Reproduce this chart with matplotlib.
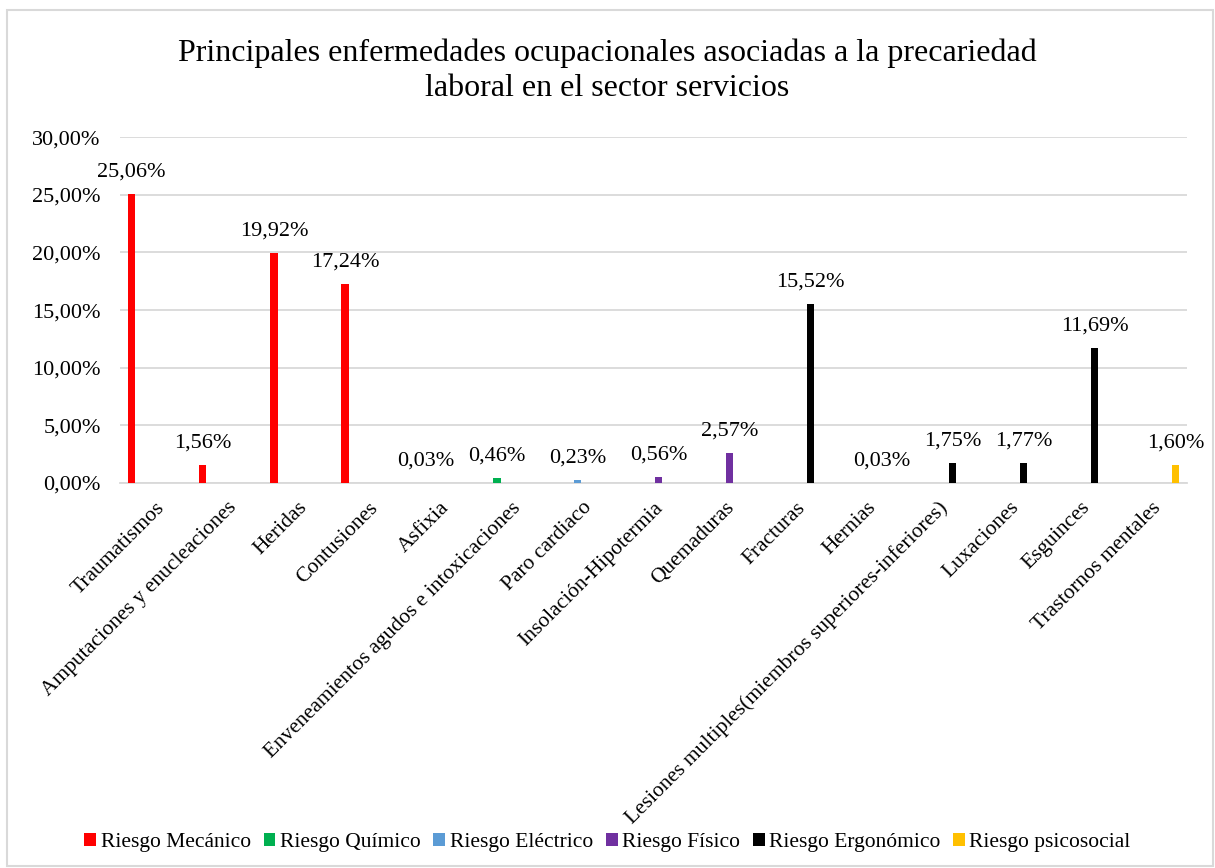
import matplotlib.pyplot as plt
import numpy as np
from matplotlib.patches import Rectangle
from matplotlib.ticker import FuncFormatter

plt.rcParams['font.family'] = ['Liberation Serif', 'DejaVu Serif']

categories = [
    "Traumatismos", "Amputaciones y enucleaciones", "Heridas", "Contusiones",
    "Asfixia", "Enveneamientos agudos e intoxicaciones", "Paro cardiaco",
    "Insolación-Hipotermia", "Quemaduras", "Fracturas", "Hernias",
    "Lesiones multiples(miembros superiores-inferiores)", "Luxaciones",
    "Esguinces", "Trastornos mentales",
]

series_names = ["Riesgo Mecánico", "Riesgo Químico", "Riesgo Eléctrico",
                "Riesgo Físico", "Riesgo Ergonómico", "Riesgo psicosocial"]
series_colors = ["#FF0000", "#00B050", "#5B9BD5", "#7030A0", "#000000", "#FFC000"]

mecanico = [25.06, 1.56, 19.92, 17.24, 0, 0, 0, 0, 0, 0, 0, 0, 0, 0, 0]
quimico = [0, 0, 0, 0, 0.03, 0.46, 0, 0, 0, 0, 0, 0, 0, 0, 0]
electrico = [0, 0, 0, 0, 0, 0, 0.23, 0, 0, 0, 0, 0, 0, 0, 0]
fisico = [0, 0, 0, 0, 0, 0, 0, 0.56, 2.57, 0, 0, 0, 0, 0, 0]
ergonomico = [0, 0, 0, 0, 0, 0, 0, 0, 0, 15.52, 0.03, 1.75, 1.77, 11.69, 0]
psicosocial = [0, 0, 0, 0, 0, 0, 0, 0, 0, 0, 0, 0, 0, 0, 1.60]

series_values = [mecanico, quimico, electrico, fisico, ergonomico, psicosocial]

fig = plt.figure(figsize=(12.15, 8.68), dpi=100)
ax = fig.add_axes([0.0988, 0.4435, 0.8782, 0.3985])

x = np.arange(len(categories))
step = 0.135
width = 0.103
for i, (name, vals, col) in enumerate(zip(series_names, series_values, series_colors)):
    vals = np.array(vals) / 100
    pos = x + (i - 2.5) * step
    ax.bar(pos, vals, width=width, color=col, label=name, zorder=3)
    for p, v in zip(pos, vals):
        if v > 0:
            ax.annotate(f"{v * 100:.2f}%".replace('.', ','), (p, v),
                        xytext=(0, 9), textcoords='offset points',
                        ha='center', va='bottom', fontsize=16)

ax.set_xlim(-0.5, len(categories) - 0.5)
ax.set_ylim(0, 0.30)
ax.set_yticks(np.arange(0, 0.301, 0.05))
ax.yaxis.set_major_formatter(FuncFormatter(lambda v, _: f"{v * 100:.2f}%".replace('.', ',')))
ax.grid(axis='y', color='#D9D9D9', linewidth=1.3, zorder=0)
for s in ['top', 'right', 'left']:
    ax.spines[s].set_visible(False)
ax.spines['bottom'].set_color('#D9D9D9')
ax.spines['bottom'].set_linewidth(1.3)
ax.tick_params(axis='y', length=0, labelsize=16, pad=14)
ax.tick_params(axis='x', length=0, labelsize=15.5, pad=11)
ax.set_xticks(x)
ax.set_xticklabels(categories, rotation=45, ha='right', rotation_mode='anchor')

fig.text(0.5, 0.956, "Principales enfermedades ocupacionales asociadas a la precariedad\nlaboral en el sector servicios",
         ha='center', va='top', fontsize=23, linespacing=1.3)

fig.legend(loc='center', bbox_to_anchor=(0.5, 0.029), ncol=6, frameon=False,
           fontsize=15.5, handlelength=0.55, handleheight=0.55, handletextpad=0.2,
           columnspacing=0.6)

fig.patches.append(Rectangle((0.006, 0.002), 0.992, 0.986, transform=fig.transFigure,
                             fill=False, edgecolor='#D9D9D9', linewidth=1.5))

fig.savefig('out.png', dpi=100)
